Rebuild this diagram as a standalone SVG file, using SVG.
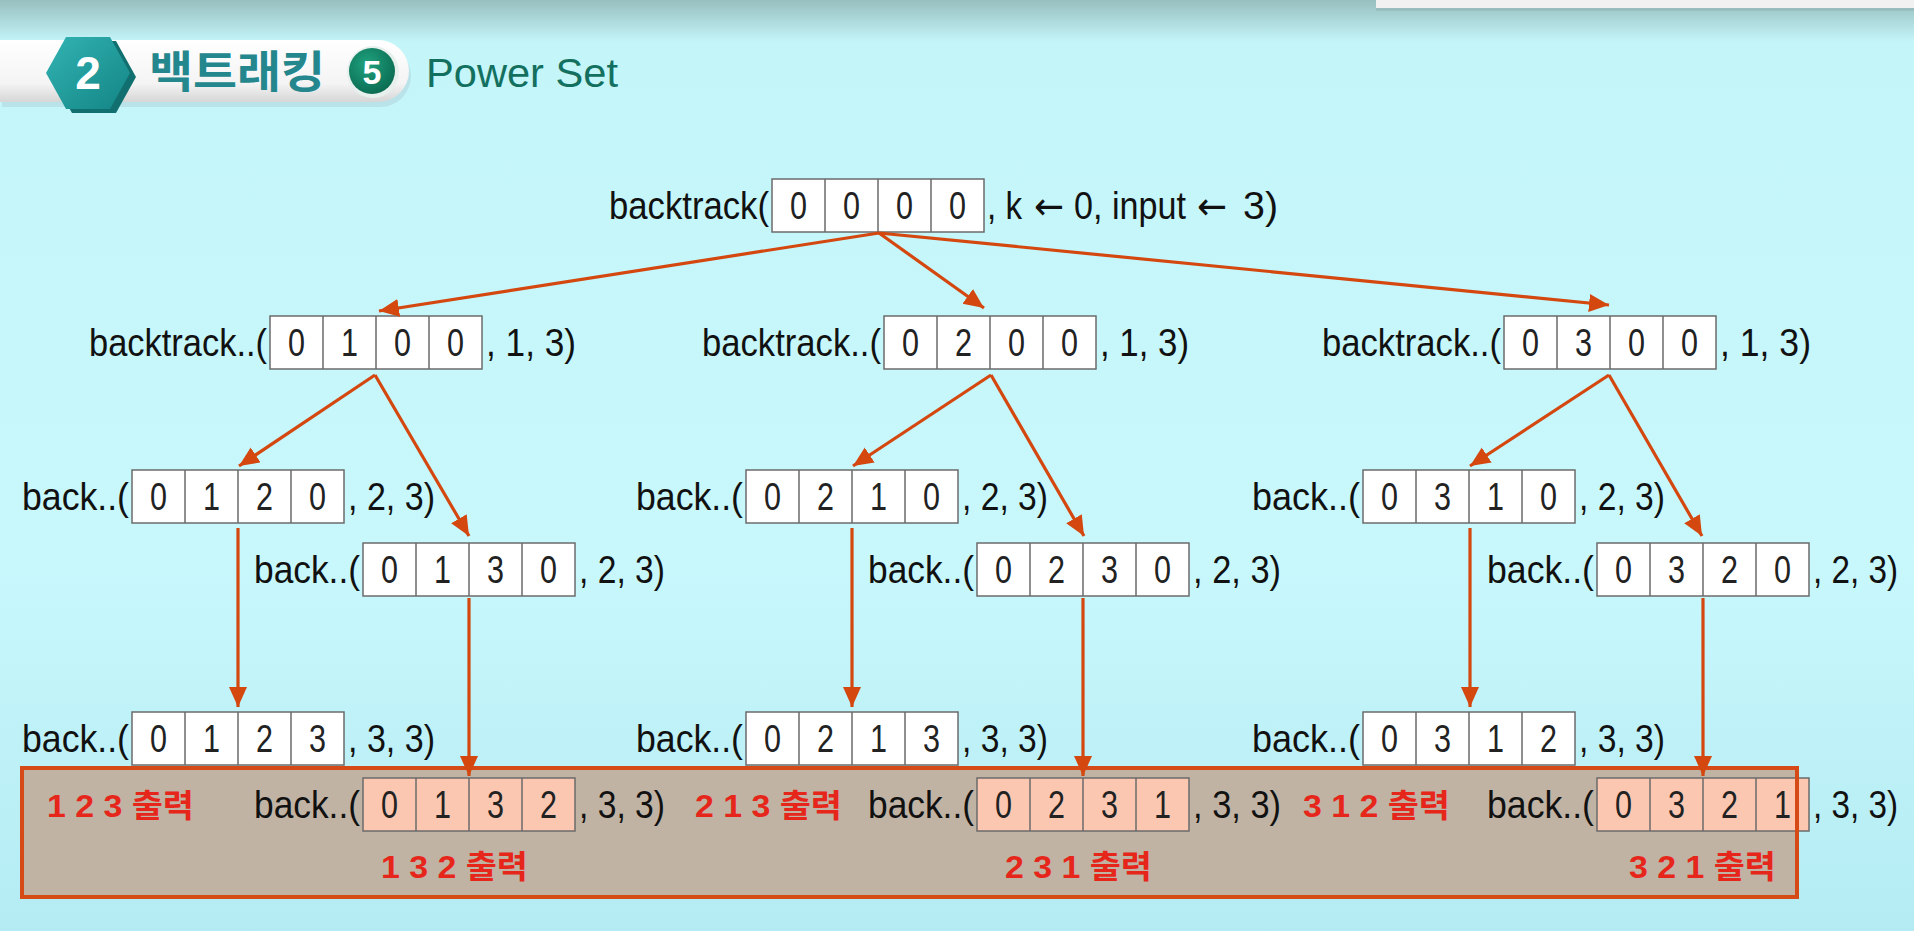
<svg xmlns="http://www.w3.org/2000/svg" xmlns:xlink="http://www.w3.org/1999/xlink" width="1914" height="931" viewBox="0 0 1914 931">
<style>
.lbl{font-family:"Liberation Sans",Arial,sans-serif;font-size:38px;fill:#111;}
.d{font-family:"Liberation Sans",Arial,sans-serif;font-size:38px;fill:#222;}
.arr{font-family:"DejaVu Sans",sans-serif;font-size:38px;fill:#111;}
.out{font-family:"Liberation Sans","Noto Sans CJK KR",sans-serif;font-size:32px;font-weight:bold;fill:#e6261a;}
.conn{stroke:#d4470f;stroke-width:3.2;fill:none;marker-end:url(#ah);}
</style>
<defs>
<linearGradient id="bg" x1="0" y1="0" x2="0" y2="1">
<stop offset="0" stop-color="#97bfbf"/>
<stop offset="0.045" stop-color="#c4f5f9"/>
<stop offset="0.6" stop-color="#c8f8fc"/>
<stop offset="1" stop-color="#b4ebf3"/>
</linearGradient>
<linearGradient id="band" x1="0" y1="0" x2="0" y2="1">
<stop offset="0" stop-color="#ffffff"/>
<stop offset="0.7" stop-color="#f4f4f4"/>
<stop offset="1" stop-color="#d6d6d6"/>
</linearGradient>
<linearGradient id="hex" x1="0" y1="0" x2="1" y2="1">
<stop offset="0" stop-color="#33b3b3"/>
<stop offset="1" stop-color="#138585"/>
</linearGradient>
<radialGradient id="circ" cx="0.4" cy="0.35" r="0.7">
<stop offset="0" stop-color="#1fa27f"/>
<stop offset="1" stop-color="#0a6a50"/>
</radialGradient>
<linearGradient id="hlfill" gradientUnits="userSpaceOnUse" x1="0" y1="0" x2="1914" y2="0">
<stop offset="0" stop-color="#fcc7b1"/>
<stop offset="0.9389" stop-color="#fcc7b1"/>
<stop offset="0.9389" stop-color="#ffffff"/>
<stop offset="1" stop-color="#ffffff"/>
</linearGradient>
<marker id="ah" markerUnits="userSpaceOnUse" markerWidth="22" markerHeight="20" refX="20" refY="9" orient="auto">
<path d="M0,0 L20,9 L0,18 z" fill="#d4470f"/>
</marker>
<g id="box">
<rect width="212" height="53" stroke="#6b6b6b" stroke-width="1.5"/>
<path d="M53 0V53M106 0V53M159 0V53" stroke="#6b6b6b" stroke-width="1.5"/>
</g>
</defs>

<rect width="1914" height="931" fill="url(#bg)"/>

<g id="topbar">
<rect x="1376" y="2" width="540" height="9" fill="#8fb0ad" opacity="0.5"/>
<rect x="1376" y="-4" width="540" height="12" fill="#f1f1f1"/>
</g>

<g id="header">
<path d="M0 42 H378 A31 31 0 0 1 378 104 H0 Z" fill="#9ab" opacity="0.25" transform="translate(2,3)"/>
<path d="M0 40 H378 A31 31 0 0 1 378 102 H0 Z" fill="url(#band)"/>
<polygon points="52,77 72,41 116,41 136,77 116,113 72,113" fill="#11706f"/>
<polygon points="46,73 66,37 110,37 130,73 110,109 66,109" fill="url(#hex)"/>
<text x="88" y="89" text-anchor="middle" style="font-family:'Liberation Sans',Arial,sans-serif;font-size:46px;font-weight:bold;fill:#ffffff">2</text>
<text x="149" y="88" textLength="176" lengthAdjust="spacingAndGlyphs" style="font-family:'Noto Sans CJK KR',sans-serif;font-size:44px;font-weight:bold;fill:#24878d">백트래킹</text>
<circle cx="373" cy="72" r="26" fill="#e8f0ee"/>
<circle cx="372" cy="71" r="23" fill="url(#circ)"/>
<text x="372" y="84" text-anchor="middle" style="font-family:'Liberation Sans',Arial,sans-serif;font-size:34px;font-weight:bold;fill:#ffffff">5</text>
<text x="426" y="87" textLength="192" lengthAdjust="spacingAndGlyphs" style="font-family:'Liberation Sans',Arial,sans-serif;font-size:40px;fill:#13705f">Power Set</text>
</g>

<g id="output-panel-fill">
<rect x="22" y="768" width="1775" height="129" fill="#c0b3a4"/>
</g>

<g fill="#ffffff">
<g id="n-root">
<text class="lbl" x="609" y="219" textLength="160" lengthAdjust="spacingAndGlyphs">backtrack(</text>
<use href="#box" x="772" y="179"/>
<text class="d" x="790" y="219" textLength="17" lengthAdjust="spacingAndGlyphs">0</text>
<text class="d" x="843" y="219" textLength="17" lengthAdjust="spacingAndGlyphs">0</text>
<text class="d" x="896" y="219" textLength="17" lengthAdjust="spacingAndGlyphs">0</text>
<text class="d" x="949" y="219" textLength="17" lengthAdjust="spacingAndGlyphs">0</text>
<text class="lbl" x="987" y="219" textLength="35" lengthAdjust="spacingAndGlyphs">, k</text>
<text class="arr" x="1034" y="219" textLength="30" lengthAdjust="spacingAndGlyphs">←</text>
<text class="lbl" x="1074" y="219" textLength="112" lengthAdjust="spacingAndGlyphs">0, input</text>
<text class="arr" x="1197" y="219" textLength="30" lengthAdjust="spacingAndGlyphs">←</text>
<text class="lbl" x="1243" y="219" textLength="35" lengthAdjust="spacingAndGlyphs">3)</text>
</g>

<g id="n-0100">
<text class="lbl" x="89" y="356" textLength="178" lengthAdjust="spacingAndGlyphs">backtrack..(</text>
<use href="#box" x="270" y="316"/>
<text class="d" x="288" y="356" textLength="17" lengthAdjust="spacingAndGlyphs">0</text>
<text class="d" x="341" y="356" textLength="17" lengthAdjust="spacingAndGlyphs">1</text>
<text class="d" x="394" y="356" textLength="17" lengthAdjust="spacingAndGlyphs">0</text>
<text class="d" x="447" y="356" textLength="17" lengthAdjust="spacingAndGlyphs">0</text>
<text class="lbl" x="486" y="356" textLength="90" lengthAdjust="spacingAndGlyphs">, 1, 3)</text>
</g>

<g id="n-0200">
<text class="lbl" x="702" y="356" textLength="179" lengthAdjust="spacingAndGlyphs">backtrack..(</text>
<use href="#box" x="884" y="316"/>
<text class="d" x="902" y="356" textLength="17" lengthAdjust="spacingAndGlyphs">0</text>
<text class="d" x="955" y="356" textLength="17" lengthAdjust="spacingAndGlyphs">2</text>
<text class="d" x="1008" y="356" textLength="17" lengthAdjust="spacingAndGlyphs">0</text>
<text class="d" x="1061" y="356" textLength="17" lengthAdjust="spacingAndGlyphs">0</text>
<text class="lbl" x="1100" y="356" textLength="89" lengthAdjust="spacingAndGlyphs">, 1, 3)</text>
</g>

<g id="n-0300">
<text class="lbl" x="1322" y="356" textLength="179" lengthAdjust="spacingAndGlyphs">backtrack..(</text>
<use href="#box" x="1504" y="316"/>
<text class="d" x="1522" y="356" textLength="17" lengthAdjust="spacingAndGlyphs">0</text>
<text class="d" x="1575" y="356" textLength="17" lengthAdjust="spacingAndGlyphs">3</text>
<text class="d" x="1628" y="356" textLength="17" lengthAdjust="spacingAndGlyphs">0</text>
<text class="d" x="1681" y="356" textLength="17" lengthAdjust="spacingAndGlyphs">0</text>
<text class="lbl" x="1720" y="356" textLength="91" lengthAdjust="spacingAndGlyphs">, 1, 3)</text>
</g>

<g id="n-0120">
<text class="lbl" x="22" y="510" textLength="107" lengthAdjust="spacingAndGlyphs">back..(</text>
<use href="#box" x="132" y="470"/>
<text class="d" x="150" y="510" textLength="17" lengthAdjust="spacingAndGlyphs">0</text>
<text class="d" x="203" y="510" textLength="17" lengthAdjust="spacingAndGlyphs">1</text>
<text class="d" x="256" y="510" textLength="17" lengthAdjust="spacingAndGlyphs">2</text>
<text class="d" x="309" y="510" textLength="17" lengthAdjust="spacingAndGlyphs">0</text>
<text class="lbl" x="348" y="510" textLength="87" lengthAdjust="spacingAndGlyphs">, 2, 3)</text>
</g>

<g id="n-0130">
<text class="lbl" x="254" y="583" textLength="106" lengthAdjust="spacingAndGlyphs">back..(</text>
<use href="#box" x="363" y="543"/>
<text class="d" x="381" y="583" textLength="17" lengthAdjust="spacingAndGlyphs">0</text>
<text class="d" x="434" y="583" textLength="17" lengthAdjust="spacingAndGlyphs">1</text>
<text class="d" x="487" y="583" textLength="17" lengthAdjust="spacingAndGlyphs">3</text>
<text class="d" x="540" y="583" textLength="17" lengthAdjust="spacingAndGlyphs">0</text>
<text class="lbl" x="579" y="583" textLength="86" lengthAdjust="spacingAndGlyphs">, 2, 3)</text>
</g>

<g id="n-0210">
<text class="lbl" x="636" y="510" textLength="107" lengthAdjust="spacingAndGlyphs">back..(</text>
<use href="#box" x="746" y="470"/>
<text class="d" x="764" y="510" textLength="17" lengthAdjust="spacingAndGlyphs">0</text>
<text class="d" x="817" y="510" textLength="17" lengthAdjust="spacingAndGlyphs">2</text>
<text class="d" x="870" y="510" textLength="17" lengthAdjust="spacingAndGlyphs">1</text>
<text class="d" x="923" y="510" textLength="17" lengthAdjust="spacingAndGlyphs">0</text>
<text class="lbl" x="962" y="510" textLength="86" lengthAdjust="spacingAndGlyphs">, 2, 3)</text>
</g>

<g id="n-0230">
<text class="lbl" x="868" y="583" textLength="106" lengthAdjust="spacingAndGlyphs">back..(</text>
<use href="#box" x="977" y="543"/>
<text class="d" x="995" y="583" textLength="17" lengthAdjust="spacingAndGlyphs">0</text>
<text class="d" x="1048" y="583" textLength="17" lengthAdjust="spacingAndGlyphs">2</text>
<text class="d" x="1101" y="583" textLength="17" lengthAdjust="spacingAndGlyphs">3</text>
<text class="d" x="1154" y="583" textLength="17" lengthAdjust="spacingAndGlyphs">0</text>
<text class="lbl" x="1193" y="583" textLength="88" lengthAdjust="spacingAndGlyphs">, 2, 3)</text>
</g>

<g id="n-0310">
<text class="lbl" x="1252" y="510" textLength="108" lengthAdjust="spacingAndGlyphs">back..(</text>
<use href="#box" x="1363" y="470"/>
<text class="d" x="1381" y="510" textLength="17" lengthAdjust="spacingAndGlyphs">0</text>
<text class="d" x="1434" y="510" textLength="17" lengthAdjust="spacingAndGlyphs">3</text>
<text class="d" x="1487" y="510" textLength="17" lengthAdjust="spacingAndGlyphs">1</text>
<text class="d" x="1540" y="510" textLength="17" lengthAdjust="spacingAndGlyphs">0</text>
<text class="lbl" x="1579" y="510" textLength="86" lengthAdjust="spacingAndGlyphs">, 2, 3)</text>
</g>

<g id="n-0320">
<text class="lbl" x="1487" y="583" textLength="107" lengthAdjust="spacingAndGlyphs">back..(</text>
<use href="#box" x="1597" y="543"/>
<text class="d" x="1615" y="583" textLength="17" lengthAdjust="spacingAndGlyphs">0</text>
<text class="d" x="1668" y="583" textLength="17" lengthAdjust="spacingAndGlyphs">3</text>
<text class="d" x="1721" y="583" textLength="17" lengthAdjust="spacingAndGlyphs">2</text>
<text class="d" x="1774" y="583" textLength="17" lengthAdjust="spacingAndGlyphs">0</text>
<text class="lbl" x="1813" y="583" textLength="85" lengthAdjust="spacingAndGlyphs">, 2, 3)</text>
</g>

<g id="n-0123">
<text class="lbl" x="22" y="752" textLength="107" lengthAdjust="spacingAndGlyphs">back..(</text>
<use href="#box" x="132" y="712"/>
<text class="d" x="150" y="752" textLength="17" lengthAdjust="spacingAndGlyphs">0</text>
<text class="d" x="203" y="752" textLength="17" lengthAdjust="spacingAndGlyphs">1</text>
<text class="d" x="256" y="752" textLength="17" lengthAdjust="spacingAndGlyphs">2</text>
<text class="d" x="309" y="752" textLength="17" lengthAdjust="spacingAndGlyphs">3</text>
<text class="lbl" x="348" y="752" textLength="87" lengthAdjust="spacingAndGlyphs">, 3, 3)</text>
</g>

<g id="n-0213">
<text class="lbl" x="636" y="752" textLength="107" lengthAdjust="spacingAndGlyphs">back..(</text>
<use href="#box" x="746" y="712"/>
<text class="d" x="764" y="752" textLength="17" lengthAdjust="spacingAndGlyphs">0</text>
<text class="d" x="817" y="752" textLength="17" lengthAdjust="spacingAndGlyphs">2</text>
<text class="d" x="870" y="752" textLength="17" lengthAdjust="spacingAndGlyphs">1</text>
<text class="d" x="923" y="752" textLength="17" lengthAdjust="spacingAndGlyphs">3</text>
<text class="lbl" x="962" y="752" textLength="86" lengthAdjust="spacingAndGlyphs">, 3, 3)</text>
</g>

<g id="n-0312">
<text class="lbl" x="1252" y="752" textLength="108" lengthAdjust="spacingAndGlyphs">back..(</text>
<use href="#box" x="1363" y="712"/>
<text class="d" x="1381" y="752" textLength="17" lengthAdjust="spacingAndGlyphs">0</text>
<text class="d" x="1434" y="752" textLength="17" lengthAdjust="spacingAndGlyphs">3</text>
<text class="d" x="1487" y="752" textLength="17" lengthAdjust="spacingAndGlyphs">1</text>
<text class="d" x="1540" y="752" textLength="17" lengthAdjust="spacingAndGlyphs">2</text>
<text class="lbl" x="1579" y="752" textLength="86" lengthAdjust="spacingAndGlyphs">, 3, 3)</text>
</g>
</g>

<g fill="url(#hlfill)">
<g id="n-0132">
<text class="lbl" x="254" y="818" textLength="106" lengthAdjust="spacingAndGlyphs">back..(</text>
<use href="#box" x="363" y="778"/>
<text class="d" x="381" y="818" textLength="17" lengthAdjust="spacingAndGlyphs">0</text>
<text class="d" x="434" y="818" textLength="17" lengthAdjust="spacingAndGlyphs">1</text>
<text class="d" x="487" y="818" textLength="17" lengthAdjust="spacingAndGlyphs">3</text>
<text class="d" x="540" y="818" textLength="17" lengthAdjust="spacingAndGlyphs">2</text>
<text class="lbl" x="579" y="818" textLength="86" lengthAdjust="spacingAndGlyphs">, 3, 3)</text>
</g>

<g id="n-0231">
<text class="lbl" x="868" y="818" textLength="106" lengthAdjust="spacingAndGlyphs">back..(</text>
<use href="#box" x="977" y="778"/>
<text class="d" x="995" y="818" textLength="17" lengthAdjust="spacingAndGlyphs">0</text>
<text class="d" x="1048" y="818" textLength="17" lengthAdjust="spacingAndGlyphs">2</text>
<text class="d" x="1101" y="818" textLength="17" lengthAdjust="spacingAndGlyphs">3</text>
<text class="d" x="1154" y="818" textLength="17" lengthAdjust="spacingAndGlyphs">1</text>
<text class="lbl" x="1193" y="818" textLength="88" lengthAdjust="spacingAndGlyphs">, 3, 3)</text>
</g>

<g id="n-0321">
<text class="lbl" x="1487" y="818" textLength="107" lengthAdjust="spacingAndGlyphs">back..(</text>
<use href="#box" x="1597" y="778"/>
<text class="d" x="1615" y="818" textLength="17" lengthAdjust="spacingAndGlyphs">0</text>
<text class="d" x="1668" y="818" textLength="17" lengthAdjust="spacingAndGlyphs">3</text>
<text class="d" x="1721" y="818" textLength="17" lengthAdjust="spacingAndGlyphs">2</text>
<text class="d" x="1774" y="818" textLength="17" lengthAdjust="spacingAndGlyphs">1</text>
<text class="lbl" x="1813" y="818" textLength="85" lengthAdjust="spacingAndGlyphs">, 3, 3)</text>
</g>
</g>

<g id="output-panel">
<rect x="22" y="768" width="1775" height="129" fill="none" stroke="#d64a18" stroke-width="4"/>
<text class="out" x="47" y="817" textLength="147" lengthAdjust="spacingAndGlyphs">1 2 3 출력</text>
<text class="out" x="695" y="817" textLength="147" lengthAdjust="spacingAndGlyphs">2 1 3 출력</text>
<text class="out" x="1303" y="817" textLength="147" lengthAdjust="spacingAndGlyphs">3 1 2 출력</text>
<text class="out" x="381" y="878" textLength="147" lengthAdjust="spacingAndGlyphs">1 3 2 출력</text>
<text class="out" x="1005" y="878" textLength="147" lengthAdjust="spacingAndGlyphs">2 3 1 출력</text>
<text class="out" x="1629" y="878" textLength="147" lengthAdjust="spacingAndGlyphs">3 2 1 출력</text>
</g>

<g id="connectors">
<line class="conn" x1="879" y1="233" x2="379" y2="311"/>
<line class="conn" x1="879" y1="233" x2="984" y2="308"/>
<line class="conn" x1="879" y1="233" x2="1609" y2="305"/>
<line class="conn" x1="375" y1="375" x2="239" y2="466"/>
<line class="conn" x1="375" y1="375" x2="469" y2="536"/>
<line class="conn" x1="991" y1="375" x2="853" y2="466"/>
<line class="conn" x1="991" y1="375" x2="1084" y2="536"/>
<line class="conn" x1="1609" y1="375" x2="1470" y2="466"/>
<line class="conn" x1="1609" y1="375" x2="1702" y2="536"/>
<line class="conn" x1="238" y1="528" x2="238" y2="707"/>
<line class="conn" x1="852" y1="528" x2="852" y2="707"/>
<line class="conn" x1="1470" y1="528" x2="1470" y2="707"/>
<line class="conn" x1="469" y1="598" x2="469" y2="776"/>
<line class="conn" x1="1083" y1="598" x2="1083" y2="776"/>
<line class="conn" x1="1703" y1="598" x2="1703" y2="776"/>
</g>
</svg>
